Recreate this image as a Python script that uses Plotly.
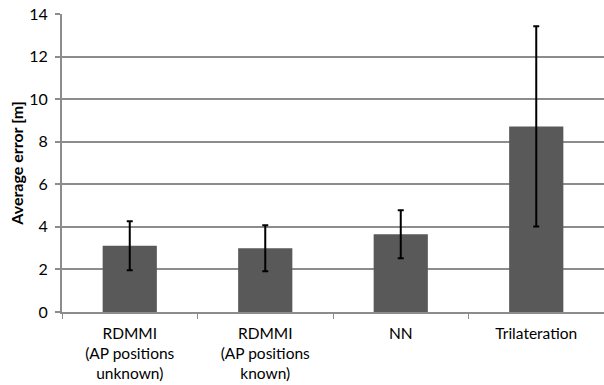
import plotly.graph_objects as go

categories = ["RDMMI<br>(AP positions<br>unknown)", "RDMMI<br>(AP positions<br>known)", "NN", "Trilateration"]
values = [3.11, 2.99, 3.65, 8.72]
errors = [1.15, 1.08, 1.13, 4.70]
y_ticks = [0, 2, 4, 6, 8, 10, 12, 14]

FONT = "Lato, 'Open Sans', sans-serif"
GRID = "#8c8c8c"

fig = go.Figure(go.Bar(
    x=categories, y=values,
    marker=dict(color="#595959", line=dict(width=0)),
    error_y=dict(type="data", array=errors, visible=True, color="black", thickness=2, width=3),
))

fig.update_layout(
    width=604, height=385,
    margin=dict(l=62, r=0, t=14, b=73),
    paper_bgcolor="white", plot_bgcolor="white",
    bargap=0.6,
    showlegend=False,
    font=dict(family=FONT, color="black"),
)
fig.update_xaxes(
    showline=True, linecolor=GRID, linewidth=2,
    ticks="outside", tickson="boundaries", ticklen=5, tickcolor=GRID, tickwidth=1,
    tickfont=dict(size=15.5, family=FONT),
    ticklabelstandoff=6,
    showgrid=False,
    automargin=False,
)
fig.update_yaxes(
    range=[0, 14], tickvals=y_ticks,
    showline=True, linecolor=GRID, linewidth=2,
    ticks="outside", ticklen=5, tickcolor=GRID, tickwidth=2,
    showgrid=True, gridcolor=GRID, gridwidth=2,
    zeroline=False,
    tickfont=dict(size=16, family=FONT),
    ticklabelstandoff=4,
    ticklabeloverflow="allow",
    automargin=False,
    title=dict(text="<b>Average error [m]</b>", font=dict(size=16, family=FONT), standoff=2),
)

# remove the default 8px page margin so the figure sits at the window's top-left corner
fig.write_html("out.html", config={"displayModeBar": False},
               post_script="document.body.style.margin='0';")
